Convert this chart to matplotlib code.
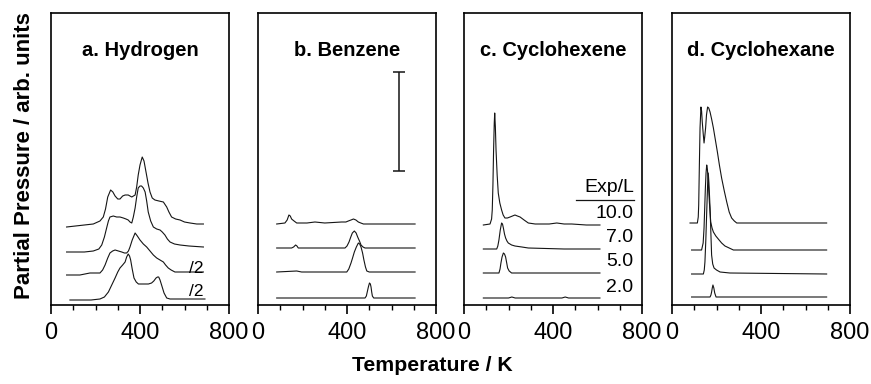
import matplotlib
matplotlib.use("Agg")
import matplotlib.pyplot as plt
from matplotlib.ticker import MultipleLocator

plt.rcParams['font.family'] = ['Liberation Sans', 'DejaVu Sans']

# ---------------- data (temperature K, signal arb. units incl. stacking offset) ---------------
# a. Hydrogen
h2_10_T = [70, 150, 190, 220, 235, 245, 255, 268, 278, 288, 300, 310, 322, 333, 347, 363, 378, 385, 392, 400, 410, 418, 427, 436, 445, 455, 467, 485, 505, 520, 530, 542, 560, 580, 600, 625, 655, 685]
h2_10_v = [78, 80, 81, 84, 88, 96, 108, 115, 113, 109, 106, 106, 109, 110, 110, 108, 110, 118, 130, 140, 148, 144, 133, 122, 113, 107, 105, 104, 103, 98, 93, 88, 86, 85, 83, 82, 81, 81]
h2_7_T = [70, 150, 190, 215, 228, 240, 250, 258, 265, 280, 295, 310, 325, 337, 347, 355, 363, 370, 378, 385, 392, 400, 407, 415, 423, 430, 437, 448, 460, 475, 490, 500, 512, 523, 535, 555, 580, 620, 685]
h2_7_v = [53, 53, 54, 56, 60, 68, 77, 84, 88, 89, 88, 88, 87, 86, 85, 83, 82, 88, 97, 108, 117, 119, 119, 117, 113, 104, 93, 84, 78, 76, 75, 73, 70, 66, 63, 61, 60, 59, 58]
h2_5_T = [70, 130, 175, 220, 232, 243, 255, 265, 277, 288, 303, 318, 330, 340, 348, 355, 365, 378, 388, 400, 415, 430, 445, 460, 475, 490, 505, 515, 527, 540, 557, 600, 685]
h2_5_v = [30, 30, 32, 32, 35, 40, 47, 52, 54, 55, 54, 53, 52, 52, 54, 58, 65, 72, 69, 65, 61, 58, 54, 50, 47, 45, 43, 40, 37, 35, 33, 33, 33]
h2_2_T = [85, 180, 220, 240, 258, 273, 288, 300, 310, 322, 333, 340, 347, 353, 358, 365, 373, 383, 393, 408, 423, 438, 452, 462, 472, 479, 484, 490, 497, 508, 520, 535, 550, 620, 692]
h2_2_v = [5, 5, 6, 8, 13, 20, 27, 33, 37, 40, 43, 48, 51, 49, 45, 36, 27, 23, 21, 21, 21, 21, 22, 24, 27, 28, 28, 25, 20, 12, 7, 6, 6, 6, 6]

# b. Benzene
bz_10_T = [84, 121, 131, 139, 145, 151, 162, 174, 220, 256, 300, 376, 395, 406, 418, 429, 440, 451, 462, 474, 550, 706]
bz_10_v = [81, 82, 85, 90, 89, 86, 84, 82, 82, 83, 82, 83, 83, 84, 85, 86, 85, 83, 82, 81, 81, 81]
bz_7_T = [84, 151, 160, 169, 175, 181, 300, 391, 400, 409, 417, 424, 433, 441, 448, 456, 463, 472, 481, 706]
bz_7_v = [57, 57, 58, 60, 59, 57, 57, 57, 59, 63, 68, 72, 74, 72, 68, 64, 60, 58, 57, 57]
bz_5_T = [84, 174, 196, 300, 399, 408, 418, 425, 433, 442, 451, 457, 463, 470, 476, 483, 489, 500, 706]
bz_5_v = [33, 34, 33, 33, 33, 36, 42, 47, 53, 58, 62, 61, 58, 52, 45, 38, 34, 33, 33]
bz_2_T = [84, 300, 481, 487, 491, 496, 501, 505, 508, 511, 514, 520, 706]
bz_2_v = [7, 7, 7, 9, 13, 18, 22, 21, 18, 13, 9, 7, 7]

# c. Cyclohexene
ce_10_T = [87, 117, 124, 127, 130, 133, 136, 138, 141, 144, 149, 154, 161, 169, 176, 184, 195, 207, 218, 229, 240, 252, 270, 289, 320, 349, 383, 417, 450, 484, 550, 611]
ce_10_v = [80, 81, 86, 95, 120, 155, 182, 192, 178, 155, 130, 112, 102, 95, 90, 87, 87, 88, 89, 90, 89, 88, 85, 82, 81, 81, 81, 82, 81, 81, 80, 80]
ce_7_T = [87, 147, 152, 157, 163, 169, 173, 177, 182, 187, 193, 199, 214, 229, 260, 289, 450, 611]
ce_7_v = [56, 56, 59, 65, 75, 82, 81, 77, 71, 67, 64, 62, 60, 59, 58, 57, 56, 56]
ce_5_T = [87, 157, 162, 166, 171, 177, 182, 187, 192, 196, 203, 214, 300, 611]
ce_5_v = [32, 32, 36, 42, 48, 52, 51, 48, 42, 37, 34, 32, 32, 32]
ce_2_T = [87, 200, 215, 230, 400, 440, 455, 470, 611]
ce_2_v = [7, 7, 8, 7, 7, 7, 8, 7, 7]

# d. Cyclohexane
ca_10_T = [81, 114, 118, 120, 123, 126, 130, 133, 136, 140, 144, 147, 151, 155, 160, 165, 171, 178, 186, 195, 204, 213, 223, 235, 246, 257, 268, 280, 291, 400, 695]
ca_10_v = [82, 82, 88, 100, 140, 177, 198, 194, 183, 172, 162, 168, 177, 190, 198, 197, 193, 186, 177, 165, 153, 140, 127, 114, 103, 93, 87, 84, 82, 82, 82]
ca_7_T = [88, 133, 140, 144, 147, 150, 153, 156, 159, 163, 168, 174, 180, 186, 197, 208, 223, 238, 257, 276, 695]
ca_7_v = [55, 55, 62, 77, 97, 117, 132, 140, 136, 123, 103, 83, 77, 73, 69, 66, 62, 59, 57, 55, 55]
ca_5_T = [88, 141, 145, 148, 152, 156, 160, 163, 166, 171, 175, 178, 183, 189, 200, 216, 260, 695]
ca_5_v = [31, 31, 35, 43, 65, 93, 120, 132, 122, 97, 70, 50, 41, 37, 35, 33, 32, 31]
ca_2_T = [88, 171, 175, 178, 181, 184, 188, 192, 198, 695]
ca_2_v = [8, 8, 10, 13, 17, 20, 17, 12, 8, 8]

titles = ["a. Hydrogen", "b. Benzene", "c. Cyclohexene", "d. Cyclohexane"]
exposures = ["10.0", "7.0", "5.0", "2.0"]
exposure_y = [92, 68, 43, 17]
xticks = [0, 400, 800]

panels = [
    [(h2_10_T, h2_10_v), (h2_7_T, h2_7_v), (h2_5_T, h2_5_v), (h2_2_T, h2_2_v)],
    [(bz_10_T, bz_10_v), (bz_7_T, bz_7_v), (bz_5_T, bz_5_v), (bz_2_T, bz_2_v)],
    [(ce_10_T, ce_10_v), (ce_7_T, ce_7_v), (ce_5_T, ce_5_v), (ce_2_T, ce_2_v)],
    [(ca_10_T, ca_10_v), (ca_7_T, ca_7_v), (ca_5_T, ca_5_v), (ca_2_T, ca_2_v)],
]

# ---------------- figure ----------------
W, H = 871, 384
fig = plt.figure(figsize=(W / 100, H / 100), dpi=100)
lefts = [51, 258, 464, 672]
pw, top_px, bot_px = 178, 13, 305

axes = []
for i, lp in enumerate(lefts):
    ax = fig.add_axes([lp / W, 1 - bot_px / H, pw / W, (bot_px - top_px) / H])
    for (T, v) in panels[i]:
        ax.plot(T, v, color='#151515', lw=0.8)
    ax.set_xlim(0, 800)
    ax.set_ylim(0, 292)
    ax.set_yticks([])
    ax.set_xticks(xticks)
    ax.xaxis.set_minor_locator(MultipleLocator(100))
    ax.tick_params(axis='x', which='major', direction='out', length=6.5, width=1.2,
                   labelsize=17, pad=6)
    ax.tick_params(axis='x', which='minor', direction='out', length=3.5, width=1.0)
    for s in ax.spines.values():
        s.set_linewidth(1.2)
    ax.text(0.5, 0.873, titles[i], transform=ax.transAxes, ha='center', va='center',
            fontsize=14.5, fontweight='bold')
    axes.append(ax)

# /2 scale labels in hydrogen panel
axes[0].text(655, 36.5, "/2", ha='center', va='center', fontsize=12.5)
axes[0].text(655, 13, "/2", ha='center', va='center', fontsize=12.5)

# scale bar in benzene panel
axes[1].errorbar([635], [183.5], yerr=[[49.5], [49.5]], fmt='none', ecolor='#151515',
                 elinewidth=1.1, capsize=4, capthick=1.1)

# exposure labels in cyclohexene panel
axc = axes[2]
axc.text(763, 117, "Exp/L", ha='right', va='center', fontsize=14)
axc.plot([505, 763], [105, 105], color='#151515', lw=0.9)
for lab, y in zip(exposures, exposure_y):
    axc.text(760, y, lab, ha='right', va='center', fontsize=14)

fig.text(0.0287, 0.594, "Partial Pressure / arb. units", rotation=90, ha='center', va='center',
         fontsize=16, fontweight='bold')
fig.text(0.496, 0.049, "Temperature / K", ha='center', va='center', fontsize=15.3,
         fontweight='bold')

fig.savefig("out.png", dpi=100)
